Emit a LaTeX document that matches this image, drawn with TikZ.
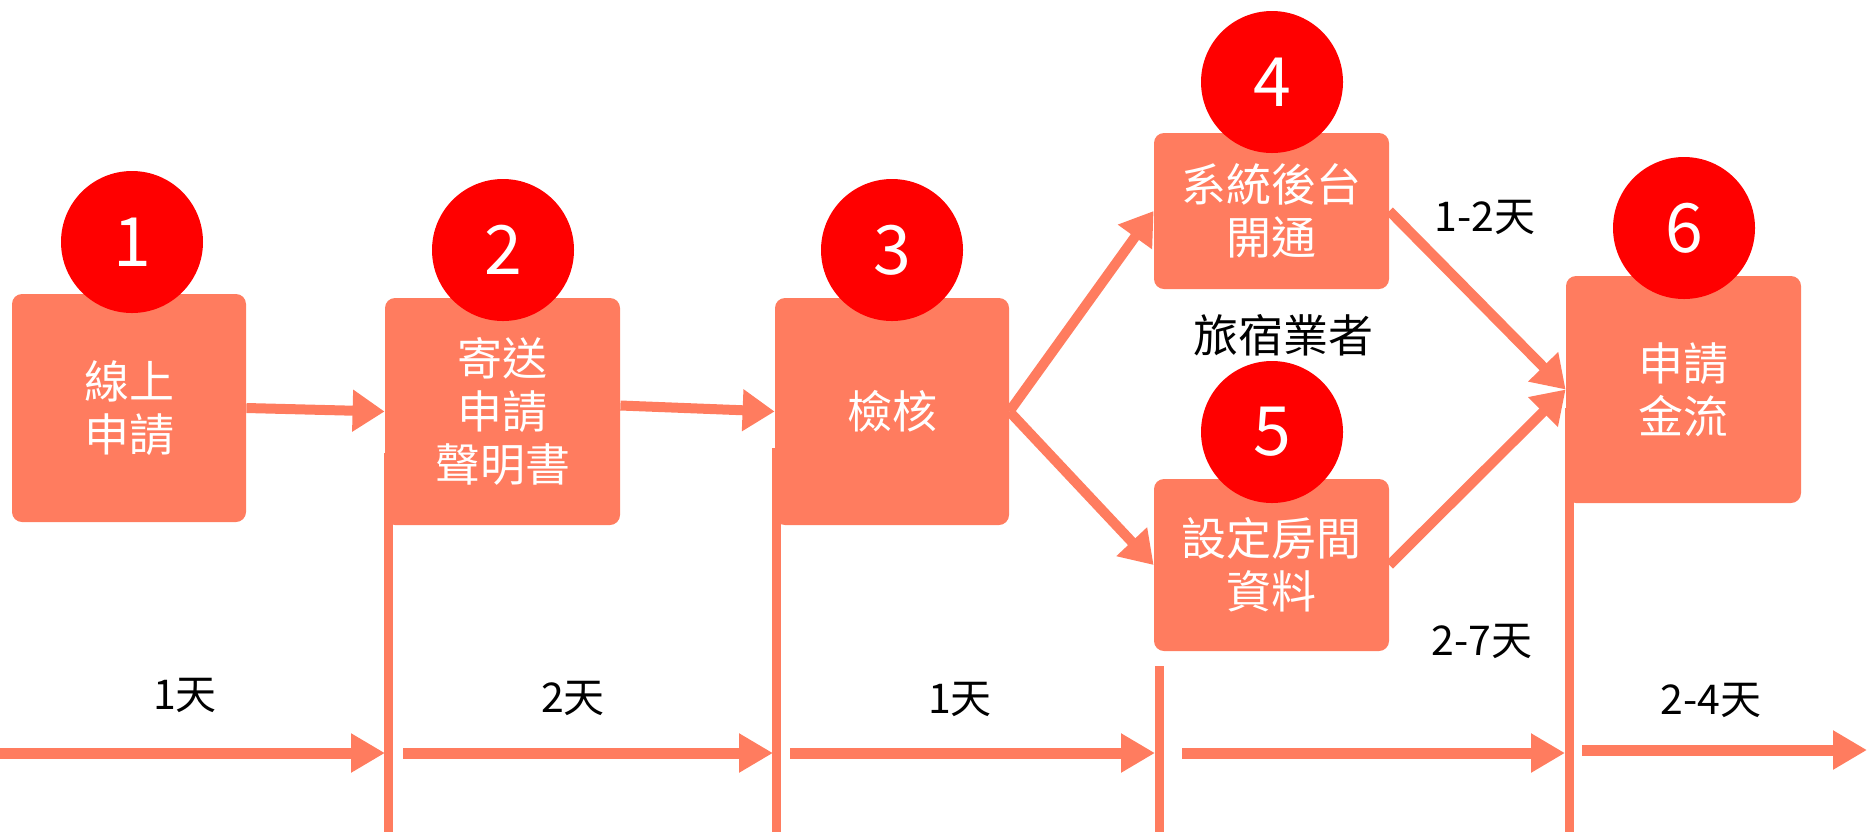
\documentclass[tikz,border=0pt]{standalone}
\usepackage{fontspec}
\newfontfamily\cjk{Noto Sans CJK TC}
\usetikzlibrary{arrows.meta}

\definecolor{coral}{HTML}{FF7C5F}
\definecolor{badgered}{HTML}{FF0000}

\begin{document}
\begin{tikzpicture}[x=0.5pt,y=-0.5pt,
  stepbox/.style={fill=coral,rounded corners=5pt,inner sep=0pt,align=center,text=white,
    font=\cjk\fontsize{22.5}{26.5}\selectfont},
  badge/.style={circle,fill=badgered,minimum size=71pt,inner sep=0pt,text=white,
    font=\cjk\fontsize{34}{34}\selectfont},
  flow/.style={draw=coral,line width=5pt,-{Triangle[length=16pt,width=20pt]}},
  days/.style={draw=coral,line width=5.5pt,-{Triangle[length=17pt,width=18.5pt]}},
  daymark/.style={draw=coral,line width=4.5pt},
  lbl/.style={font=\cjk\fontsize{20.5}{20.5}\selectfont}]
\useasboundingbox (0,0) rectangle (1867,832);

% steps
\node[stepbox,minimum width=117pt,minimum height=114pt] (s1) at (129,408) {線上\\申請};
\node[stepbox,minimum width=117.5pt,minimum height=113.5pt] (s2) at (502.5,411.5) {寄送\\申請\\聲明書};
\node[stepbox,minimum width=117pt,minimum height=113.5pt] (s3) at (892,411.5) {檢核};
\node[stepbox,minimum width=117.5pt,minimum height=78pt] (s4) at (1271.5,211) {系統後台\\開通};
\node[stepbox,minimum width=117.5pt,minimum height=86pt] (s5) at (1271.5,565) {設定房間\\資料};
\node[stepbox,minimum width=117.5pt,minimum height=113.5pt] (s6) at (1683.5,389.5) {申請\\金流};

% time line
\coordinate (v1a) at (388,453);  \coordinate (v1b) at (388,832);
\coordinate (v2a) at (776,448);  \coordinate (v2b) at (776,832);
\coordinate (v3a) at (1159,666); \coordinate (v3b) at (1159,832);
\coordinate (v4a) at (1569,408); \coordinate (v4b) at (1569,832);
\draw[daymark] (v1a) -- (v1b);
\draw[daymark] (v2a) -- (v2b);
\draw[daymark] (v3a) -- (v3b);
\draw[daymark] (v4a) -- (v4b);

\coordinate (h1a) at (0,753);    \coordinate (h1b) at (385,753);
\coordinate (h2a) at (403,753);  \coordinate (h2b) at (773,753);
\coordinate (h3a) at (790,753);  \coordinate (h3b) at (1155,753);
\coordinate (h4a) at (1182,753); \coordinate (h4b) at (1565,753);
\coordinate (h5a) at (1582,750); \coordinate (h5b) at (1867,750);
\draw[days] (h1a) -- (h1b);
\draw[days] (h2a) -- (h2b);
\draw[days] (h3a) -- (h3b);
\draw[days] (h4a) -- (h4b);
\draw[days] (h5a) -- (h5b);

\node[lbl] (d1) at (185,695) {1天};
\node[lbl] (d2) at (573,698) {2天};
\node[lbl] (d3) at (960,699) {1天};
\node[lbl] (d4) at (1485,217) {1-2天};
\node[lbl] (d5) at (1482,641) {2-7天};
\node[lbl] (d6) at (1711,700) {2-4天};
\node[lbl,font=\cjk\fontsize{22.5}{22.5}\selectfont] (who) at (1283,335) {旅宿業者};

% flow
\draw[flow] (s1.east) -- (s2.west);
\draw[flow] ([yshift=3pt]s2.east) -- (s3.west);
\draw[flow] (s3.east) -- (s4.west);
\draw[flow] (s3.east) -- (s5.west);
\draw[flow] (s4.east) -- (s6.west);
\draw[flow] (s5.east) -- (s6.west);

% numbers
\node[badge] (n1) at (132,242) {1};
\node[badge] (n2) at (503,250) {2};
\node[badge] (n3) at (892,250) {3};
\node[badge] (n4) at (1272,82) {4};
\node[badge] (n5) at (1272,432) {5};
\node[badge] (n6) at (1684,228) {6};
\end{tikzpicture}
\end{document}
